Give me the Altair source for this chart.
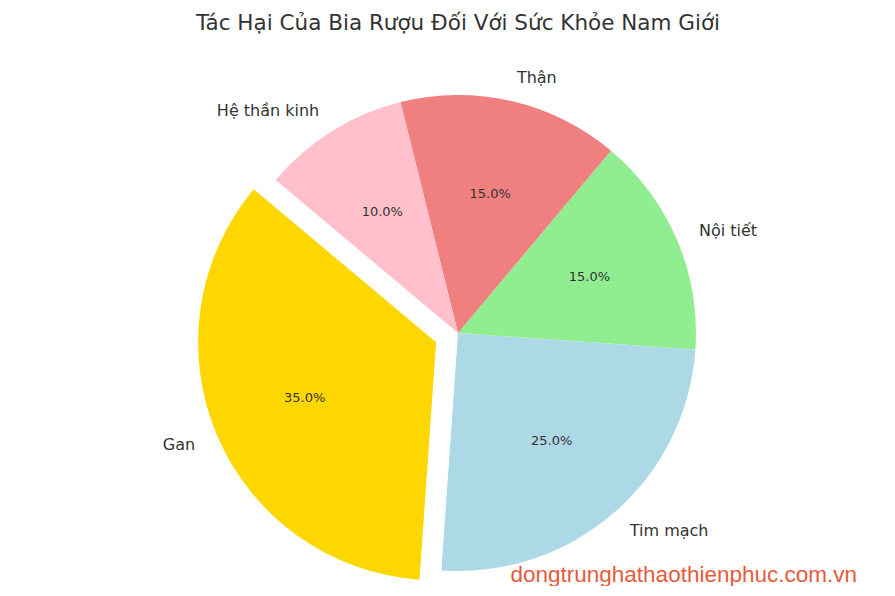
import math
import altair as alt
import pandas as pd

# ---- data (matplotlib-style pie, counter-clockwise from startangle) ----
labels = ["Gan", "Tim mạch", "Nội tiết", "Thận", "Hệ thần kinh"]
shares = [35, 25, 15, 15, 10]
colors = ["#FFD700", "#ADD8E6", "#90EE90", "#F08080", "#FFC0CB"]
explode = [0.1, 0, 0, 0, 0]
start_angle = 140
title_text = "Tác Hại Của Bia Rượu Đối Với Sức Khỏe Nam Giới"
watermark = ["dongtrunghathaothienphuc.com.vn"]

R = 238
LABEL_R = 1.1 * R
PCT_R = 0.6 * R

n = len(labels)
df = pd.DataFrame({
    "label": labels,
    "share": shares,
    "ord": [n - 1 - i for i in range(n)],  # clockwise drawing order in Vega
})

t0 = math.radians(90 - start_angle)
theta_scale = alt.Scale(domain=[0, 100], range=[t0, t0 + 2 * math.pi])
color_scale = alt.Scale(domain=labels, range=colors)

base = (
    alt.Chart(df)
    .transform_window(cum="sum(share)", sort=[alt.SortField("ord")], frame=[None, 0])
    .transform_calculate(
        start="datum.cum - datum.share",
        mid="datum.cum - datum.share / 2",
        pct=alt.expr.format(alt.datum.share, ".1f") + "%",
    )
)

layers = []
acc = 0.0
for i, lab in enumerate(labels):
    mid_mpl = math.radians(start_angle + 360 * (acc + shares[i] / 2) / 100)
    acc += shares[i]
    dx = explode[i] * R * math.cos(mid_mpl)
    dy = -explode[i] * R * math.sin(mid_mpl)
    align = "left" if math.cos(mid_mpl) > 0 else "right"
    sub = base.transform_filter(alt.datum.label == lab)
    arc = sub.mark_arc(radius=R, xOffset=dx, yOffset=dy).encode(
        theta=alt.Theta("start:Q", scale=theta_scale, stack=None),
        theta2="cum:Q",
        color=alt.Color("label:N", scale=color_scale, legend=None),
    )
    lbl = sub.mark_text(
        radius=LABEL_R, xOffset=dx, yOffset=dy, align=align, baseline="middle",
        font="DejaVu Sans", fontSize=16, color="#333333",
    ).encode(
        theta=alt.Theta("mid:Q", scale=theta_scale, stack=None),
        text="label:N",
    )
    pct = sub.mark_text(
        radius=PCT_R, xOffset=dx, yOffset=dy, align="center", baseline="middle",
        font="DejaVu Sans", fontSize=13, color="#333333",
    ).encode(
        theta=alt.Theta("mid:Q", scale=theta_scale, stack=None),
        text="pct:N",
    )
    layers += [arc, lbl, pct]

wm = alt.Chart(pd.DataFrame({"t": watermark})).mark_text(
    align="right", baseline="middle", font="Liberation Sans", fontSize=22.5,
    color="#E85A3C",
).encode(x=alt.value(819), y=alt.value(495), text="t:N")
layers.append(wm)

chart = (
    alt.layer(*layers)
    .properties(
        width=840,
        height=506,
        padding={"left": 30, "top": 72, "right": 0, "bottom": 0},
        autosize=alt.AutoSizeParams(type="none"),
        title=alt.TitleParams(
            title_text, fontSize=21.5, font="DejaVu Sans", fontWeight="normal",
            color="#333333", anchor="middle", offset=35,
        ),
    )
    .configure_view(stroke=None)
)

chart.save("out.html", embed_options={"renderer": "svg", "actions": False})
